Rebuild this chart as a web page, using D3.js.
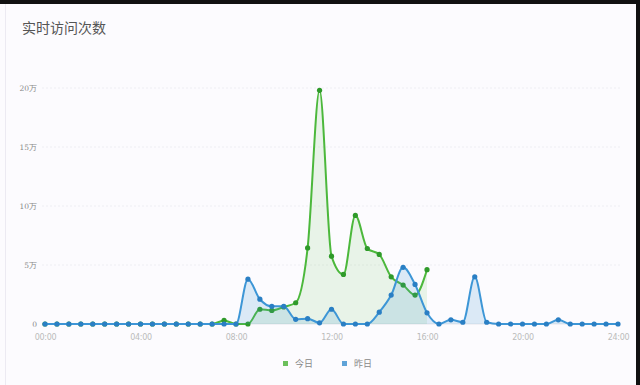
<!DOCTYPE html>
<html><head><meta charset="utf-8">
<script src="https://cdn.jsdelivr.net/npm/d3@7/dist/d3.min.js"></script>
<style>
html,body{margin:0;padding:0;background:#fcfbfe;}
svg{display:block;}
</style></head>
<body>
<svg id="chart" width="640" height="385"></svg>
<script>
const times = ["00:00","00:30","01:00","01:30","02:00","02:30","03:00","03:30","04:00","04:30","05:00","05:30","06:00","06:30","07:00","07:30","08:00","08:30","09:00","09:30","10:00","10:30","11:00","11:30","12:00","12:30","13:00","13:30","14:00","14:30","15:00","15:30","16:00","16:30","17:00","17:30","18:00","18:30","19:00","19:30","20:00","20:30","21:00","21:30","22:00","22:30","23:00","23:30","24:00"];
// values in 万
const today = [0,0,0,0,0,0,0,0,0,0,0,0,0,0,0,0.3,0,0,1.25,1.15,1.45,1.8,6.45,19.8,5.75,4.2,9.2,6.4,5.9,4.0,3.3,2.45,4.6,null,null,null,null,null,null,null,null,null,null,null,null,null,null,null,null];
const yesterday = [0,0,0,0,0,0,0,0,0,0,0,0,0,0,0,0,0,3.8,2.1,1.5,1.5,0.4,0.45,0.1,1.25,0,0,0,1.0,2.45,4.8,3.35,0.95,0,0.35,0.15,4.0,0.15,0,0,0,0,0,0.35,0,0,0,0,0];
const xTickLabels = ["00:00","04:00","08:00","12:00","16:00","20:00","24:00"];
const yTicks = [0,5,10,15,20];
const seriesNames = ["今日","昨日"];

const svg = d3.select("#chart");
// frame edges
svg.append("rect").attr("x",0).attr("y",0).attr("width",640).attr("height",4).attr("fill","#111");
svg.append("rect").attr("x",636).attr("y",0).attr("width",4).attr("height",385).attr("fill","#111");
svg.append("line").attr("x1",5.5).attr("x2",5.5).attr("y1",4).attr("y2",385).attr("stroke","#eceaf2");

svg.append("text").attr("x",22).attr("y",33).text("实时访问次数")
  .attr("font-family","'Noto Sans CJK SC', sans-serif").attr("font-size",14).attr("fill","#555");

const x = d3.scalePoint().domain(times).range([45,618]);
const y = d3.scaleLinear().domain([0,20]).range([324,88]);

// grid
const grid = svg.append("g");
grid.selectAll("line").data(yTicks).join("line")
  .attr("x1",42).attr("x2",620).attr("y1",d=>y(d)).attr("y2",d=>y(d))
  .attr("stroke", d=> d===0 ? "#e6e6ec" : "#eeeef3").attr("stroke-dasharray", d=> d===0 ? null : "2,2");

// y axis
const yAxis = d3.axisLeft(y).tickValues(yTicks).tickSize(0).tickPadding(0)
  .tickFormat(d => d===0 ? "0" : d + "万");
const gy = svg.append("g").attr("transform","translate(37,0)").call(yAxis);
gy.select(".domain").remove();
gy.selectAll("text").attr("font-family","'DejaVu Serif', serif").attr("font-size",7.5).attr("fill","#888");

// x axis
const xAxis = d3.axisBottom(x).tickValues(xTickLabels).tickSize(0).tickPadding(0);
const gx = svg.append("g").attr("transform","translate(0,334)").call(xAxis);
gx.select(".domain").remove();
gx.selectAll("text").attr("font-family","'DejaVu Sans', sans-serif").attr("font-size",8).attr("fill","#bbb").attr("letter-spacing","-0.3");

const series = [
  {name:seriesNames[0], values:today, line:"#4cb83c", dot:"#2f9a2a", fill:"rgba(90,190,70,0.12)"},
  {name:seriesNames[1], values:yesterday, line:"#3d96d6", dot:"#2a7fc4", fill:"rgba(60,150,210,0.17)"}
];

series.forEach(s => {
  const pts = times.map((t,i)=>({t, v:s.values[i]})).filter(p=>p.v!==null);
  const area = d3.area().x(p=>x(p.t)).y0(y(0)).y1(p=>y(p.v)).curve(d3.curveMonotoneX);
  const line = d3.line().x(p=>x(p.t)).y(p=>y(p.v)).curve(d3.curveMonotoneX);
  const g = svg.append("g");
  g.append("path").datum(pts).attr("d",area).attr("fill",s.fill);
  g.append("path").datum(pts).attr("d",line).attr("fill","none").attr("stroke",s.line).attr("stroke-width",2);
  g.selectAll("circle").data(pts).join("circle")
    .attr("cx",p=>x(p.t)).attr("cy",p=>y(p.v)).attr("r",2.6).attr("fill",s.dot);
});

// legend
const lg = svg.append("g");
const legendX = [283, 342];
series.forEach((s,i)=>{
  lg.append("rect").attr("x",legendX[i]).attr("y",361).attr("width",5).attr("height",5).attr("fill", i===0 ? "#6cc05c" : "#5fa3d8");
  lg.append("text").attr("x",legendX[i]+12).attr("y",367).text(s.name)
    .attr("font-family","'Noto Sans CJK SC', sans-serif").attr("font-size",9).attr("fill","#888");
});
</script>
</body></html>
